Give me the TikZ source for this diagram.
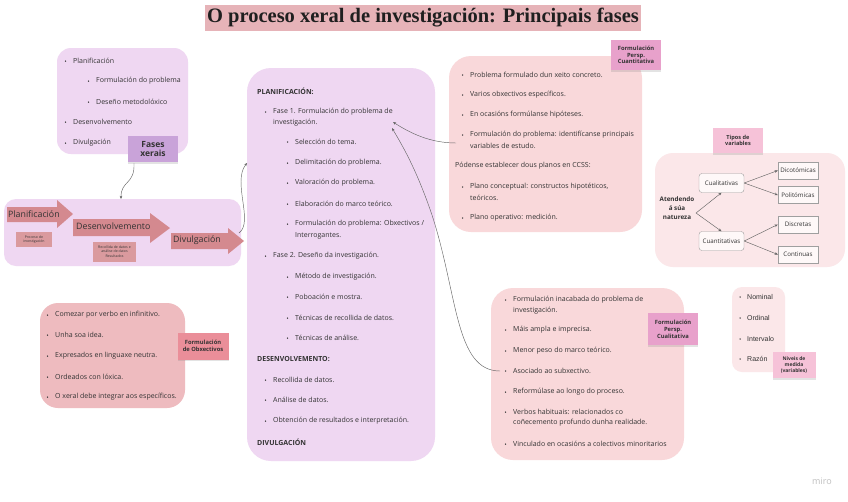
\documentclass[tikz,border=0pt]{standalone}
\usepackage{fontspec}
\setmainfont{Open Sans}
\newfontfamily\titlefont{Liberation Serif}
\newfontfamily\arialfont{Liberation Sans}
\usetikzlibrary{shadows,arrows.meta}
\definecolor{lav}{HTML}{EFD7F2}
\definecolor{lavlabel}{HTML}{C9A3D9}
\definecolor{arr}{HTML}{D4898F}
\definecolor{arrbox}{HTML}{DA9A9E}
\definecolor{pinkbox}{HTML}{F9D8DA}
\definecolor{pinkdark}{HTML}{EEBBBF}
\definecolor{objlabel}{HTML}{EA8E99}
\definecolor{persp}{HTML}{E8A1CB}
\definecolor{lightpink}{HTML}{FBE7E9}
\definecolor{stickypk}{HTML}{F6C2D8}
\definecolor{titlebg}{HTML}{E6B3B8}
\definecolor{tc}{HTML}{333333}
\definecolor{cc}{HTML}{666666}
\newcommand\bul[4]{\fill[tc] ({#2-7.5},#3) circle (0.75); \node[txt] (#1) at (#2,#3) {#4};}
\begin{document}
\begin{tikzpicture}[x=1pt,y=-1pt,
  txt/.style={anchor=west,inner sep=0pt,text=tc,font=\fontsize{7}{8.4}\selectfont},
  hd/.style={anchor=west,inner sep=0pt,text=tc,font=\fontsize{7}{8.4}\selectfont\bfseries},
  sticky/.style={inner sep=0pt,align=center,text=tc,drop shadow={opacity=0.22,shadow xshift=0pt,shadow yshift=-1.8pt}},
  conn/.style={draw=cc,line width=0.45pt,-{Stealth[length=3.2pt,width=2.6pt]}},
  arrtxt/.style={anchor=west,inner sep=0pt,text=tc,font=\fontsize{8.8}{10}\selectfont},
  smallbox/.style={fill=arrbox,inner sep=0pt,align=center,text=tc,font=\fontsize{3.5}{4.3}\selectfont},
  vbox/.style={draw=gray!75,line width=0.4pt,fill=white!70!lightpink,inner sep=0pt,text=tc,font=\fontsize{6.2}{7}\selectfont}
]
\useasboundingbox (0,0) rectangle (848,501);
\fill[white] (0,0) rectangle (848,501);

% title
\fill[titlebg] (205,5) rectangle (641,31);
\node[inner sep=0pt,text=black!88,font=\titlefont\bfseries\fontsize{20.5}{24}\selectfont] (title) at (423,18) {O proceso xeral de investigación: Principais fases};

% top-left box
\fill[lav,rounded corners=14pt] (57,48) rectangle (188,154);
\bul{tl1}{73}{61}{Planificación}
\bul{tl2}{96}{81}{Formulación do problema}
\bul{tl3}{96}{102}{Deseño metodolóxico}
\bul{tl4}{73}{122}{Desenvolvemento}
\bul{tl5}{73}{143}{Divulgación}
\node[sticky,fill=lavlabel,minimum width=50,minimum height=26,font=\fontsize{8.5}{9.8}\selectfont\bfseries] (fx) at (153,149) {Fases\\xerais};

% left arrow box
\fill[lav,rounded corners=12pt] (4,199) rectangle (241,266);
\fill[arr] (7,207) -- (57,207) -- (57,200) -- (73,214) -- (57,228) -- (57,222) -- (7,222) -- cycle;
\fill[arr] (73,219) -- (150,219) -- (150,213) -- (170,228) -- (150,243) -- (150,236) -- (73,236) -- cycle;
\fill[arr] (171,233) -- (228,233) -- (228,228) -- (244,241) -- (228,254) -- (228,249) -- (171,249) -- cycle;
\node[arrtxt] (pl) at (8,214) {Planificación};
\node[arrtxt] (de) at (76,226) {Desenvolvemento};
\node[arrtxt] (di) at (173,240) {Divulgación};
\node[smallbox,minimum width=36,minimum height=15] (pi) at (34,239.5) {Proceso de\\investigación};
\node[smallbox,minimum width=43,minimum height=20] (rd) at (114.5,251.5) {Recollida de datos e\\análise de datos\\Resultados};

% center box
\fill[lav,rounded corners=24pt] (247,68) rectangle (435,461);
\node[hd] (h1) at (257,91) {PLANIFICACIÓN:};
\bul{c1}{273}{112}{Fase 1. Formulación do problema de}
\node[txt] (c1b) at (273,123) {investigación.};
\bul{c2}{295}{142}{Selección do tema.}
\bul{c3}{295}{163}{Delimitación do problema.}
\bul{c4}{295}{183}{Valoración do problema.}
\bul{c5}{295}{204}{Elaboración do marco teórico.}
\bul{c6}{295}{224}{Formulación do problema: Obxectivos /}
\node[txt] (c6b) at (295,236) {Interrogantes.};
\bul{c7}{273}{256}{Fase 2. Deseño da investigación.}
\bul{c8}{295}{277}{Método de investigación.}
\bul{c9}{295}{297}{Poboación e mostra.}
\bul{c10}{295}{318}{Técnicas de recollida de datos.}
\bul{c11}{295}{338}{Técnicas de análise.}
\node[hd] (h2) at (257,359) {DESENVOLVEMENTO:};
\bul{c12}{273}{380}{Recollida de datos.}
\bul{c13}{273}{400}{Análise de datos.}
\bul{c14}{273}{421}{Obtención de resultados e interpretación.}
\node[hd] (h3) at (257,442) {DIVULGACIÓN};

% top-right box
\fill[pinkbox,rounded corners=22pt] (449,56) rectangle (642,232);
\bul{tr1}{470}{75}{Problema formulado dun xeito concreto.}
\bul{tr2}{470}{95}{Varios obxectivos específicos.}
\bul{tr3}{470}{115}{En ocasións formúlanse hipóteses.}
\bul{tr4}{470}{135}{Formulación do problema: identifícanse principais}
\node[txt] (tr4b) at (470,146) {variables de estudo.};
\node[txt] (tr0) at (455,166) {Pódense establecer dous planos en CCSS:};
\bul{tr5}{470}{187}{Plano conceptual: constructos hipotéticos,}
\node[txt] (tr5b) at (470,198) {teóricos.};
\bul{tr6}{470}{218}{Plano operativo: medición.}
\node[sticky,fill=persp,minimum width=50,minimum height=30,font=\fontsize{5.8}{6.8}\selectfont\bfseries] (pcu) at (636,55) {Formulación\\Persp.\\Cuantitativa};

% bottom-right box
\fill[pinkbox,rounded corners=22pt] (491,288) rectangle (684,460);
\bul{br1}{513}{300}{Formulación inacabada do problema de}
\node[txt] (br1b) at (513,311) {investigación.};
\bul{br2}{513}{330}{Máis ampla e imprecisa.}
\bul{br3}{513}{351}{Menor peso do marco teórico.}
\bul{br4}{513}{371}{Asociado ao subxectivo.}
\bul{br5}{513}{392}{Reformúlase ao longo do proceso.}
\bul{br6}{513}{412}{Verbos habituais: relacionados co}
\node[txt] (br6b) at (513,423) {coñecemento profundo dunha realidade.};
\bul{br7}{513}{444}{Vinculado en ocasións a colectivos minoritarios}
\node[sticky,fill=persp,minimum width=50,minimum height=32,font=\fontsize{5.8}{6.8}\selectfont\bfseries] (pcl) at (673,329) {Formulación\\Persp.\\Cualitativa};

% bottom-left box
\fill[pinkdark,rounded corners=18pt] (40,303) rectangle (185,408);
\bul{bl1}{55}{315}{Comezar por verbo en infinitivo.}
\bul{bl2}{55}{335}{Unha soa idea.}
\bul{bl3}{55}{356}{Expresados en linguaxe neutra.}
\bul{bl4}{55}{377}{Ordeados con lóxica.}
\bul{bl5}{55}{397}{O xeral debe integrar aos específicos.}
\node[sticky,fill=objlabel,minimum width=51,minimum height=27,font=\fontsize{5.8}{6.8}\selectfont\bfseries] (obx) at (203,346) {Formulación\\de Obxectivos};

% tipos de variables
\fill[lightpink,rounded corners=18pt] (655,153) rectangle (845,267);
\node[sticky,fill=stickypk,minimum width=50,minimum height=25,font=\fontsize{5.6}{6.6}\selectfont\bfseries] (tipos) at (738,140.5) {Tipos de\\variables};
\node[inner sep=0pt,align=center,text=tc,font=\fontsize{6.3}{9}\selectfont\bfseries] (nat) at (677,208) {Atendendo\\á súa\\natureza};
\node[vbox,rounded corners=3pt,minimum width=45,minimum height=19] (cual) at (721.5,183) {Cualitativas};
\node[vbox,rounded corners=3pt,minimum width=45,minimum height=19] (cuant) at (721.5,241) {Cuantitativas};
\node[vbox,minimum width=40,minimum height=17] (dic) at (798,170.5) {Dicotómicas};
\node[vbox,minimum width=40,minimum height=17] (pol) at (798,195) {Politómicas};
\node[vbox,minimum width=40,minimum height=17] (dis) at (798,224.5) {Discretas};
\node[vbox,minimum width=40,minimum height=17] (con) at (798,254.5) {Continuas};
\coordinate (np) at (696,213);
\draw[conn] (np) -- (cual.south);
\draw[conn] (np) -- (cuant.north);
\draw[conn] (cual.east) -- (dic.west);
\draw[conn] (cual.east) -- (pol.west);
\draw[conn] (cuant.east) -- (dis.west);
\draw[conn] (cuant.east) -- (con.west);

% niveis de medida
\fill[lightpink,rounded corners=10pt] (732,287) rectangle (785,372);
\fill[tc] (740,297) circle (0.75); \node[txt,font=\arialfont\fontsize{7}{8}\selectfont] (n1) at (747,297) {Nominal};
\fill[tc] (740,318) circle (0.75); \node[txt,font=\arialfont\fontsize{7}{8}\selectfont] (n2) at (747,318) {Ordinal};
\fill[tc] (740,339) circle (0.75); \node[txt,font=\arialfont\fontsize{7}{8}\selectfont] (n3) at (747,339) {Intervalo};
\fill[tc] (740,359) circle (0.75); \node[txt,font=\arialfont\fontsize{7}{8}\selectfont] (n4) at (747,359) {Razón};
\node[sticky,fill=stickypk,minimum width=43,minimum height=26,font=\fontsize{5}{6}\selectfont\bfseries] (niv) at (794,365) {Niveis de\\medida\\(variables)};

% connectors
\coordinate (fxs) at (134,163);
\coordinate (lbt) at (121,199);
\draw[conn] (fxs) .. controls (135,185) and (121,180) .. (lbt);
\coordinate (dvs) at (239,233);
\coordinate (cbl) at (247,163);
\draw[conn] (dvs) .. controls (254,222) and (232,182) .. (cbl);
\coordinate (trs) at (456,143);
\coordinate (ca1) at (393,122);
\draw[conn] (trs) .. controls (430,143) and (410,133) .. (ca1);
\coordinate (brs) at (500,371);
\coordinate (ca2) at (392,128);
\draw[conn] (brs) .. controls (455,371) and (458,295) .. (432,215) .. controls (416,168) and (402,145) .. (ca2);

\node[inner sep=0pt,text=gray!50,font=\fontsize{9}{10}\selectfont] (miro) at (822,481) {miro};
\end{tikzpicture}
\end{document}
